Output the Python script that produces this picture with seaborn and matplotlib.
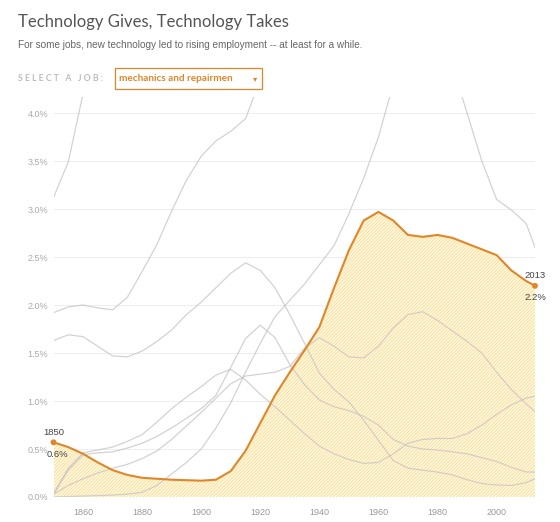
import numpy as np
import pandas as pd
import matplotlib
matplotlib.use("Agg")
import matplotlib.pyplot as plt
import matplotlib.patches as mpatches
import seaborn as sns

nan = np.nan

# ---------------- data ----------------
years = [1850, 1855, 1860, 1865, 1870, 1875, 1880, 1885, 1890, 1895, 1900,
         1905, 1910, 1915, 1920, 1925, 1930, 1935, 1940, 1945, 1950,
         1955, 1960, 1965, 1970, 1975, 1980, 1985, 1990, 1995, 2000,
         2005, 2010, 2013]

selected_job = "mechanics and repairmen"
mechanics = [0.57, 0.52, 0.45, 0.36, 0.28, 0.23, 0.20, 0.19, 0.18, 0.175, 0.17,
             0.18, 0.27, 0.48, 0.77, 1.06, 1.30, 1.53, 1.77, 2.18, 2.57,
             2.88, 2.97, 2.88, 2.73, 2.71, 2.73, 2.70, 2.64, 2.58, 2.52,
             2.36, 2.25, 2.20]

job_a = [3.12, 3.49, 4.20, 5.00, nan, nan, nan, nan, nan, nan, nan,
         nan, nan, nan, nan, nan, nan, nan, nan, nan, nan,
         nan, nan, nan, nan, nan, nan, nan, nan, nan, nan,
         nan, nan, nan]
job_b = [1.92, 1.98, 2.00, 1.97, 1.95, 2.08, 2.35, 2.63, 2.98, 3.30, 3.55,
         3.71, 3.81, 3.94, 4.35, 5.00, nan, nan, nan, nan, nan,
         nan, nan, nan, nan, nan, nan, nan, nan, nan, nan,
         nan, nan, nan]
job_c = [1.63, 1.69, 1.67, 1.57, 1.47, 1.46, 1.52, 1.62, 1.74, 1.90, 2.03,
         2.18, 2.33, 2.44, 2.36, 2.18, 1.90, 1.60, 1.29, 1.12, 0.99,
         0.80, 0.59, 0.38, 0.30, 0.28, 0.26, 0.23, 0.18, 0.14, 0.125,
         0.12, 0.15, 0.19]
job_d = [0.03, 0.30, 0.46, 0.49, 0.52, 0.58, 0.65, 0.78, 0.92, 1.04, 1.15,
         1.27, 1.33, 1.22, 1.07, 0.94, 0.80, 0.66, 0.53, 0.45, 0.39,
         0.35, 0.36, 0.45, 0.56, 0.60, 0.61, 0.61, 0.66, 0.75, 0.86,
         0.96, 1.03, 1.05]
job_e = [0.03, 0.28, 0.44, 0.46, 0.47, 0.51, 0.56, 0.63, 0.72, 0.82, 0.92,
         1.06, 1.35, 1.65, 1.79, 1.66, 1.38, 1.17, 1.01, 0.94, 0.90,
         0.84, 0.75, 0.60, 0.53, 0.50, 0.49, 0.47, 0.45, 0.41, 0.37,
         0.31, 0.26, 0.26]
job_f = [0.03, 0.12, 0.19, 0.25, 0.30, 0.34, 0.40, 0.48, 0.60, 0.74, 0.88,
         1.03, 1.18, 1.26, 1.28, 1.30, 1.36, 1.55, 1.66, 1.57, 1.46,
         1.45, 1.57, 1.76, 1.90, 1.93, 1.84, 1.73, 1.62, 1.50, 1.30,
         1.12, 0.97, 0.89]
job_g = [0.00, 0.005, 0.01, 0.015, 0.02, 0.03, 0.05, 0.12, 0.24, 0.36, 0.50,
         0.72, 0.98, 1.30, 1.60, 1.88, 2.05, 2.22, 2.42, 2.62, 2.95,
         3.32, 3.75, 4.30, 5.00, nan, nan, nan, nan, nan, nan,
         nan, nan, nan]
job_h = [nan, nan, nan, nan, nan, nan, nan, nan, nan, nan, nan,
         nan, nan, nan, nan, nan, nan, nan, nan, nan, nan,
         nan, nan, nan, nan, nan, 5.20, 4.50, 4.00, 3.50, 3.10,
         2.99, 2.85, 2.60]

other_jobs = {"job a": job_a, "job b": job_b, "job c": job_c, "job d": job_d,
              "job e": job_e, "job f": job_f, "job g": job_g, "job h": job_h}

x_ticks = [1860, 1880, 1900, 1920, 1940, 1960, 1980, 2000]
y_ticks = [0.0, 0.5, 1.0, 1.5, 2.0, 2.5, 3.0, 3.5, 4.0]

title = "Technology Gives, Technology Takes"
subtitle = "For some jobs, new technology led to rising employment -- at least for a while."
select_label = "S E L E C T   A   J O B :"

# ---------------- style ----------------
sns.set_style("white")
plt.rcParams["font.family"] = ["Liberation Sans", "DejaVu Sans"]
plt.rcParams["hatch.linewidth"] = 0.5

ORANGE = "#e0862a"
GRAY = "#c4c4c4"

W, H = 560, 522
fig = plt.figure(figsize=(W / 100, H / 100), dpi=100)
ax = fig.add_axes([53.5 / W, 25 / H, (535 - 53.5) / W, 400 / H])

ax.fill_between(years, mechanics, 0, facecolor="#fff7df", edgecolor="#f7dc8c",
                hatch="//////////", linewidth=0, zorder=1)

long = pd.DataFrame(
    [(y, name, v) for name, vals in other_jobs.items() for y, v in zip(years, vals)],
    columns=["year", "job", "share"],
).dropna()

sns.lineplot(data=long, x="year", y="share", hue="job",
             palette=[GRAY] * len(other_jobs), linewidth=0.9, alpha=0.75,
             legend=False, ax=ax, zorder=2)

sel = pd.DataFrame({"year": years, "share": mechanics})
sns.lineplot(data=sel, x="year", y="share", color=ORANGE, linewidth=1.5,
             ax=ax, zorder=3)

ends = sel.iloc[[0, -1]]
sns.scatterplot(data=ends, x="year", y="share", color=ORANGE, s=18,
                edgecolor="none", ax=ax, zorder=4, clip_on=False)

for i, (_, r) in enumerate(ends.iterrows()):
    dx = 2.5 if i == 0 else 0
    ax.annotate(f"{int(r.year)}", (r.year, r.share), xytext=(0, 4),
                textcoords="offset points", ha="center", va="bottom",
                fontsize=6.8, color="#444444", annotation_clip=False)
    ax.annotate(f"{r.share:.1f}%", (r.year, r.share), xytext=(dx, -5.5),
                textcoords="offset points", ha="center", va="top",
                fontsize=6.8, color="#444444", annotation_clip=False)

ax.set_xlim(years[0], years[-1])
ax.set_ylim(0, 4.167)
ax.set_xticks([years[0]] + x_ticks + [years[-1]])
ax.set_xticklabels([""] + [str(t) for t in x_ticks] + [""])
ax.set_yticks(y_ticks)
ax.set_yticklabels([f"{t:.1f}%" for t in y_ticks])
ax.tick_params(axis="x", length=4, width=0.8, color="#cccccc",
               labelsize=6.5, labelcolor="#999999", pad=4)
ax.tick_params(axis="y", length=0, labelsize=6.5, labelcolor="#aaaaaa", pad=4)
ax.yaxis.grid(True, color="#eeeeee", linewidth=0.8)
ax.xaxis.grid(False)
ax.set_axisbelow(True)
for s in ax.spines.values():
    s.set_visible(False)
ax.set_xlabel("")
ax.set_ylabel("")

# ---------------- header ----------------
fig.text(18 / W, 1 - 22 / H, title, fontsize=12, color="#555555",
         va="center", ha="left", family=["Lato", "DejaVu Sans"])
fig.text(18 / W, 1 - 45.5 / H, subtitle, fontsize=7.2, color="#666666",
         va="center", ha="left")
fig.text(18 / W, 1 - 78.5 / H, select_label, fontsize=6.3, color="#bdbdbd",
         va="center", ha="left", weight="bold", family=["Lato", "DejaVu Sans"])
fig.patches.append(mpatches.Rectangle((115 / W, 1 - 89 / H), 147 / W, 21 / H,
                                      transform=fig.transFigure, facecolor="white",
                                      edgecolor=ORANGE, linewidth=0.9))
fig.text(119 / W, 1 - 78.5 / H, selected_job, fontsize=7.2, color=ORANGE,
         va="center", ha="left", weight="bold", family=["Lato", "DejaVu Sans"])
fig.text(255 / W, 1 - 78.5 / H, "\u25be", fontsize=6, color=ORANGE,
         va="center", ha="center", family=["DejaVu Sans"])

fig.savefig("out.png", dpi=100)
